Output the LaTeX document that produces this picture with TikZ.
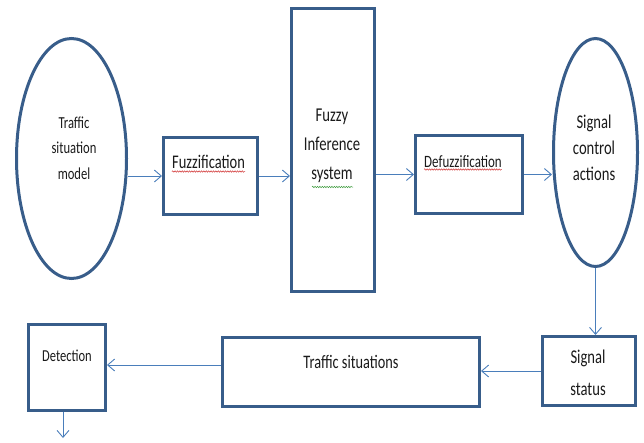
\documentclass[tikz,border=0pt]{standalone}
\usepackage{fontspec}
\setmainfont[FakeStretch=0.75]{Carlito}
\usetikzlibrary{shapes.geometric,arrows.meta,decorations.pathmorphing}
\definecolor{boxline}{HTML}{385D8A}
\definecolor{arrline}{HTML}{4A7EBB}
\definecolor{txtgrey}{HTML}{1A1A1A}
\definecolor{spellred}{HTML}{D03030}
\definecolor{spellgreen}{HTML}{3C9A3C}

\tikzset{
  blockbox/.style={draw=boxline,line width=3pt,inner sep=0pt},
  blockoval/.style={ellipse,draw=boxline,line width=3pt,inner sep=0pt},
  lbl/.style={text=txtgrey,align=center,inner sep=0pt},
  flow/.style={draw=arrline,line width=0.9pt,-{Straight Barb[length=7pt,width=12pt]}},
  squiggle/.style={line width=0.5pt,decorate,decoration={snake,amplitude=0.7pt,segment length=2.4pt}}
}

\begin{document}
\begin{tikzpicture}[x=1pt,y=-1pt]
  \useasboundingbox (0,0) rectangle (644,442);
  % shapes
  \node[blockoval,minimum width=110,minimum height=240] (model) at (71.5,158.5) {};
  \node[blockbox,minimum width=94,minimum height=77] (fuzz) at (210.5,176) {};
  \node[blockbox,minimum width=83,minimum height=283] (fis) at (333,150) {};
  \node[blockbox,minimum width=107,minimum height=78] (defuzz) at (469,174.5) {};
  \node[blockoval,minimum width=84,minimum height=228] (actions) at (595.5,152.5) {};
  \node[blockbox,minimum width=93,minimum height=69] (status) at (589,371) {};
  \node[blockbox,minimum width=257,minimum height=69] (situations) at (351,372) {};
  \node[blockbox,minimum width=77,minimum height=86] (detect) at (67,367.5) {};
  \coordinate (out) at (63,438);

  % texts
  \node[lbl,font=\fontsize{16.8}{25.5}\selectfont] (modelt) at (74,148) {Traffic\\situation\\model};
  \node[lbl,anchor=base,font=\fontsize{19.3}{23}\selectfont] (fuzzt) at (208.5,168) {Fuzzification};
  \node[lbl,font=\fontsize{19.6}{29}\selectfont] (fist) at (332,146) {Fuzzy\\Inference\\system};
  \node[lbl,anchor=base,font=\fontsize{17.3}{21}\selectfont] (defuzzt) at (463,167) {Defuzzification};
  \node[lbl,font=\fontsize{19.5}{26}\selectfont] (actionst) at (594,148) {Signal\\control\\actions};
  \node[lbl,font=\fontsize{19.5}{32}\selectfont] (statust) at (588,373) {Signal\\status};
  \node[lbl,anchor=base,font=\fontsize{19.1}{23}\selectfont] (situationst) at (351,368) {Traffic situations};
  \node[lbl,anchor=base,font=\fontsize{16.7}{20}\selectfont] (detectt) at (67,361) {Detection};

  % spelling marks
  \draw[squiggle,spellred] ([yshift=-3.5pt]fuzzt.base west) -- ([yshift=-3.5pt]fuzzt.base east);
  \draw[squiggle,spellred] ([yshift=-2.5pt]defuzzt.base west) -- ([yshift=-2.5pt]defuzzt.base east);
  \draw[squiggle,spellgreen] (312,187) -- (353,187);

  % connectors
  \draw[flow] (model.east |- fuzz.west) -- (fuzz.west);
  \draw[flow] (fuzz.east) -- (fuzz.east -| fis.west);
  \draw[flow] (fis.east |- defuzz.west) -- (defuzz.west);
  \draw[flow] (defuzz.east) -- (defuzz.east -| actions.west);
  \draw[flow] (actions.south) -- (actions.south |- status.north);
  \draw[flow] (status.west) -- (status.west -| situations.east);
  \draw[flow] ([yshift=7pt]situations.west) -- ([yshift=7pt]situations.west -| detect.east);
  \draw[flow] ([xshift=-4pt]detect.south) -- ([xshift=-4pt]detect.south |- out);
\end{tikzpicture}
\end{document}
